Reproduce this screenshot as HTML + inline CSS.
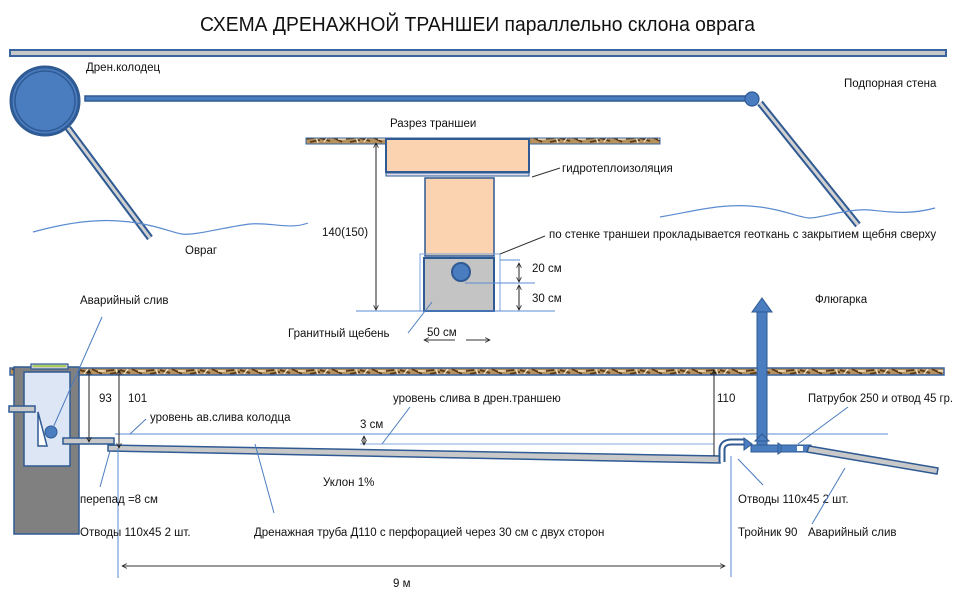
<!DOCTYPE html>
<html><head><meta charset="utf-8"><style>
html,body{margin:0;padding:0;background:#fff;}
svg{display:block;}
text{font-family:"Liberation Sans","DejaVu Sans",sans-serif;font-size:11.5px;fill:#111;}
</style></head><body>
<svg width="960" height="600" viewBox="0 0 960 600" xmlns="http://www.w3.org/2000/svg">
<defs>
<pattern id="soil" width="40" height="8" patternUnits="userSpaceOnUse">
<rect width="40" height="8" fill="#b8925c"/>
<path d="M0 2 L10 5 M12 1 L22 6 M24 3 L34 2 M30 6 L40 4" stroke="#5a3a18" stroke-width="1.8"/>
<path d="M4 6 L8 1 M18 3 L26 3 M36 1 L38 7" stroke="#f2e4c4" stroke-width="1.4"/>
</pattern>
<marker id="ah" viewBox="0 0 10 10" refX="9" refY="5" markerWidth="6" markerHeight="6" orient="auto-start-reverse"><path d="M1 1 L9 5 L1 9" fill="none" stroke="#222" stroke-width="1.3"/></marker>
</defs>

<text x="200" y="31" style="font-size:20px" textLength="555" lengthAdjust="spacingAndGlyphs">СХЕМА ДРЕНАЖНОЙ ТРАНШЕИ параллельно склона оврага</text>

<!-- top wall -->
<rect x="10" y="50" width="936" height="6" fill="#c8c8c8" stroke="#3a64a0" stroke-width="2"/>

<!-- top plan -->
<circle cx="45" cy="101" r="34" fill="#4a7cc0" stroke="#2f5a93" stroke-width="3"/>
<circle cx="45" cy="101" r="30" fill="none" stroke="#2f5a93" stroke-width="1.5"/>
<rect x="85" y="96" width="665" height="5" fill="#4a7cc0" stroke="#2f5a93" stroke-width="1.5"/>
<circle cx="752" cy="99" r="7" fill="#4a7cc0" stroke="#2f5a93" stroke-width="1.2"/>
<line x1="68" y1="128" x2="150" y2="238" stroke="#2f5a93" stroke-width="7"/>
<line x1="68" y1="128" x2="150" y2="238" stroke="#d0d0d0" stroke-width="3"/>
<line x1="760" y1="103" x2="858" y2="225" stroke="#2f5a93" stroke-width="7"/>
<line x1="760" y1="103" x2="858" y2="225" stroke="#d0d0d0" stroke-width="3"/>
<path d="M33 232 C70 222 100 218 130 222 S170 232 182 234 S230 226 250 224 S290 230 308 223" fill="none" stroke="#5b8bd0" stroke-width="1.2"/>
<path d="M660 217 C700 210 720 204 750 206 S800 218 810 218 S850 208 870 210 S910 215 935 208" fill="none" stroke="#5b8bd0" stroke-width="1.2"/>
<text x="86" y="71">Дрен.колодец</text>
<text x="844" y="87">Подпорная стена</text>
<text x="185" y="254">Овраг</text>

<!-- section -->
<text x="390" y="127">Разрез траншеи</text>
<rect x="306" y="138" width="354" height="6" fill="url(#soil)" stroke="#3a64a0" stroke-width="1"/>
<rect x="386" y="139" width="143" height="33" fill="#fbd3b0" stroke="#2f5a93" stroke-width="2"/>
<rect x="386" y="173" width="143" height="3" fill="#dde" stroke="#2f5a93" stroke-width="1"/>
<rect x="425" y="178" width="69" height="78" fill="#fbd3b0" stroke="#2f5a93" stroke-width="1.5"/>
<rect x="424" y="258" width="70" height="53" fill="#c4c4c4" stroke="#2f5a93" stroke-width="2"/>
<rect x="420" y="254" width="80" height="57" fill="none" stroke="#7aa3e0" stroke-width="1"/>
<circle cx="461" cy="272" r="9" fill="#4a7cc0" stroke="#2f5a93" stroke-width="2"/>
<line x1="376" y1="143" x2="376" y2="310" stroke="#222" marker-start="url(#ah)" marker-end="url(#ah)"/>
<text x="322" y="236">140(150)</text>
<line x1="356" y1="311" x2="555" y2="311" stroke="#5b8bd0"/>
<line x1="500" y1="260" x2="520" y2="260" stroke="#5b8bd0"/>
<line x1="465" y1="283" x2="535" y2="283" stroke="#5b8bd0"/>
<line x1="519" y1="263" x2="519" y2="282" stroke="#222" marker-start="url(#ah)" marker-end="url(#ah)"/>
<line x1="519" y1="285" x2="519" y2="310" stroke="#222" marker-start="url(#ah)" marker-end="url(#ah)"/>
<text x="532" y="272">20 см</text>
<text x="532" y="302">30 см</text>
<line x1="532" y1="177" x2="560" y2="168" stroke="#333"/>
<text x="562" y="172">гидротеплоизоляция</text>
<line x1="500" y1="254" x2="545" y2="236" stroke="#333"/>
<text x="549" y="238">по стенке траншеи прокладывается геоткань с закрытием щебня сверху</text>
<text x="288" y="337">Гранитный щебень</text>
<line x1="408" y1="333" x2="432" y2="302" stroke="#4a7cc0"/>
<text x="427" y="336">50 см</text>
<line x1="424" y1="340" x2="455" y2="340" stroke="#333" marker-start="url(#ah)"/>
<line x1="466" y1="340" x2="490" y2="340" stroke="#333" marker-end="url(#ah)"/>

<!-- bottom profile -->
<rect x="10" y="368" width="934" height="7" fill="url(#soil)" stroke="#3a64a0" stroke-width="1.5"/>
<rect x="14" y="367" width="65" height="167" fill="#808080" stroke="#2f5a93" stroke-width="1.5"/>
<rect x="24" y="372" width="46" height="94" fill="#dce6f4" stroke="#2f5a93" stroke-width="1.5"/>
<rect x="31" y="364" width="37" height="5" fill="#ccc" stroke="#2f5a93" stroke-width="1.2"/>
<line x1="33" y1="366" x2="66" y2="366" stroke="#9c3" stroke-width="1.5"/>
<rect x="9" y="406" width="26" height="6" fill="#c8c8c8" stroke="#2f5a93" stroke-width="1.5"/>
<path d="M38 412 L38 446 L47 446 Z" fill="#fff" stroke="#2f5a93" stroke-width="1.5"/>
<circle cx="51" cy="432" r="6" fill="#4a7cc0" stroke="#2f5a93"/>
<rect x="63" y="438" width="51" height="6" fill="#c8c8c8" stroke="#2f5a93" stroke-width="1.5"/>
<path d="M108 445 L720 456 L720 463 L108 451 Z" fill="#c8c8c8" stroke="#2f5a93" stroke-width="1.5"/>
<line x1="115" y1="434" x2="888" y2="434" stroke="#5b8bd0"/>
<line x1="360" y1="444" x2="714" y2="444" stroke="#5b8bd0" stroke-width="0.8"/>
<line x1="89" y1="370" x2="89" y2="442" stroke="#222" marker-start="url(#ah)" marker-end="url(#ah)"/>
<line x1="119" y1="370" x2="119" y2="448" stroke="#222" marker-start="url(#ah)" marker-end="url(#ah)"/>
<line x1="714" y1="370" x2="714" y2="456" stroke="#222" marker-start="url(#ah)"/>
<text x="99" y="402">93</text>
<text x="128" y="402">101</text>
<text x="717" y="402">110</text>
<line x1="118" y1="448" x2="118" y2="578" stroke="#5b8bd0"/>
<line x1="731" y1="456" x2="731" y2="577" stroke="#5b8bd0"/>
<line x1="122" y1="566" x2="725" y2="566" stroke="#333" marker-start="url(#ah)" marker-end="url(#ah)"/>
<text x="393" y="587">9 м</text>

<!-- fittings -->
<path d="M722 462 L722 450 Q722 442 732 442 L745 442" fill="none" stroke="#2f5a93" stroke-width="7"/>
<path d="M722 462 L722 450 Q722 442 732 442 L745 442" fill="none" stroke="#fff" stroke-width="3"/>
<path d="M744 438 L752 444 L744 450 Z" fill="#4a7cc0" stroke="#2f5a93"/>
<rect x="757" y="312" width="10" height="138" fill="#4a7cc0" stroke="#2f5a93"/>
<path d="M752 312 L762 298 L772 312 Z" fill="#4a7cc0" stroke="#2f5a93"/>
<path d="M755 441 L762 434 L769 441 Z" fill="#4a7cc0" stroke="#2f5a93"/>
<rect x="751" y="445" width="30" height="7" fill="#4a7cc0" stroke="#2f5a93"/>
<path d="M778 443 L786 448.5 L778 454 Z" fill="#4a7cc0" stroke="#2f5a93"/>
<rect x="781" y="445" width="30" height="7" fill="#4a7cc0" stroke="#2f5a93"/>
<rect x="797" y="446" width="6" height="5" fill="#fff"/>
<path d="M809 446 L938 468 L937 474 L807 452 Z" fill="#c8c8c8" stroke="#2f5a93" stroke-width="1.5"/>

<!-- labels -->
<text x="80" y="304">Аварийный слив</text>
<line x1="102" y1="317" x2="52" y2="430" stroke="#4a7cc0"/>
<text x="150" y="421">уровень ав.слива колодца</text>
<line x1="146" y1="419" x2="130" y2="434" stroke="#4a7cc0"/>
<text x="393" y="402">уровень слива в дрен.траншею</text>
<line x1="410" y1="407" x2="382" y2="444" stroke="#4a7cc0"/>
<text x="360" y="428">3 см</text>
<line x1="364" y1="436" x2="364" y2="445" stroke="#222" marker-start="url(#ah)" marker-end="url(#ah)"/>
<text x="323" y="486">Уклон 1%</text>
<text x="80" y="503">перепад =8 см</text>
<line x1="100" y1="487" x2="110" y2="451" stroke="#4a7cc0"/>
<text x="80" y="536">Отводы 110х45 2 шт.</text>
<text x="254" y="536">Дренажная труба Д110 с перфорацией через 30 см с двух сторон</text>
<line x1="255" y1="444" x2="274" y2="513" stroke="#4a7cc0"/>
<text x="815" y="303">Флюгарка</text>
<text x="808" y="402" textLength="145" lengthAdjust="spacingAndGlyphs">Патрубок 250 и отвод 45 гр.</text>
<line x1="848" y1="407" x2="798" y2="444" stroke="#4a7cc0"/>
<text x="738" y="503">Отводы 110х45 2 шт.</text>
<line x1="738" y1="459" x2="763" y2="485" stroke="#4a7cc0"/>
<text x="738" y="536">Тройник 90</text>
<text x="808" y="536">Аварийный слив</text>
<line x1="845" y1="468" x2="812" y2="524" stroke="#4a7cc0"/>
</svg>
</body></html>
